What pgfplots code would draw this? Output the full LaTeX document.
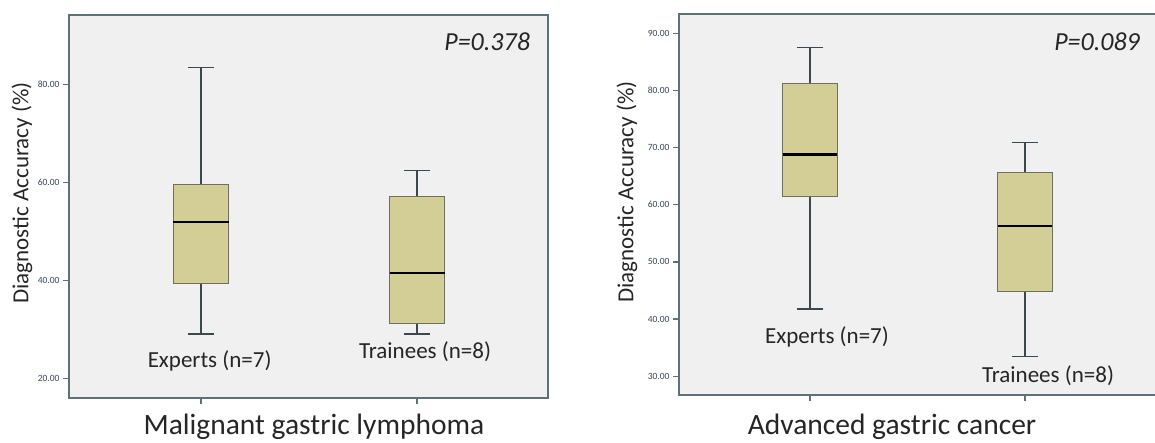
\documentclass[border=0pt]{standalone}
\usepackage{fontspec}
\setmainfont{Carlito}
\usepackage{pgfplots}
\pgfplotsset{compat=1.18}
\definecolor{boxfill}{RGB}{211,206,150}
\definecolor{boxedge}{RGB}{110,112,95}
\definecolor{bgc}{RGB}{240,240,240}
\definecolor{framec}{RGB}{95,112,118}
\definecolor{whisk}{RGB}{60,72,76}
\definecolor{ticktext}{RGB}{55,70,90}
\pgfplotsset{
  mybox/.style={
    scale only axis, anchor=south west,
    axis background/.style={fill=bgc},
    axis line style={framec, line width=1.6pt},
    tick align=outside, major tick length=6pt,
    tick style={framec, line width=1.2pt},
    xtick={0,1}, xticklabels={},
    ytick pos=left, xtick pos=bottom,
    yticklabel style={font=\fontsize{9.5}{10}\selectfont, text=ticktext,
      /pgf/number format/fixed, /pgf/number format/fixed zerofill,
      /pgf/number format/precision=2, /pgf/number format/assume math mode=true},
    clip=false,
  },
  bx/.style={fill=boxfill, draw=boxedge, line width=1pt, mark=none},
  wk/.style={draw=whisk, line width=1.5pt, mark=none},
  md/.style={draw=black, line width=2.2pt, mark=none},
}
\tikzset{
  catlab/.style={font=\fontsize{23}{27}\selectfont, text=black!85},
  plab/.style={font=\fontsize{26}{30}\selectfont\itshape, text=black!85},
}
\begin{document}
\begin{tikzpicture}
% ---------- left panel ----------
\begin{axis}[mybox, at={(69pt,44pt)}, width=479pt, height=383pt,
  xmin=-0.611, xmax=1.606, ymin=16.1, ymax=94.1, ytick={20,40,60,80}]
  % Experts: lw 29.1, q1 39.45, med 52.0, q3 59.5, uw 83.4
  \addplot[wk] coordinates {(0,29.1) (0,39.45)};
  \addplot[wk] coordinates {(0,59.5) (0,83.4)};
  \addplot[wk] coordinates {(-0.06,29.1) (0.06,29.1)};
  \addplot[wk] coordinates {(-0.06,83.4) (0.06,83.4)};
  \addplot[bx] coordinates {(-0.1275,39.45) (0.1275,39.45) (0.1275,59.5) (-0.1275,59.5)} -- cycle;
  \addplot[md] coordinates {(-0.1275,52.0) (0.1275,52.0)};
  % Trainees: lw 29.1, q1 31.2, med 41.5, q3 57.2, uw 62.45
  \addplot[wk] coordinates {(1,29.1) (1,31.2)};
  \addplot[wk] coordinates {(1,57.2) (1,62.45)};
  \addplot[wk] coordinates {(0.94,29.1) (1.06,29.1)};
  \addplot[wk] coordinates {(0.94,62.45) (1.06,62.45)};
  \addplot[bx] coordinates {(0.8725,31.2) (1.1275,31.2) (1.1275,57.2) (0.8725,57.2)} -- cycle;
  \addplot[md] coordinates {(0.8725,41.5) (1.1275,41.5)};
  \node[catlab] at (axis cs:0.04,23.7) {Experts (n=7)};
  \node[catlab] at (axis cs:1.037,25.6) {Trainees (n=8)};
  \node[plab] at (rel axis cs:0.873,0.93) {P=0.378};
\end{axis}
% ---------- right panel ----------
\begin{axis}[mybox, at={(679pt,47pt)}, width=480pt, height=381pt,
  xmin=-0.609, xmax=1.623, ymin=26.7, ymax=93.4, ytick={30,40,...,90}]
  % Experts: lw 41.75, q1 61.5, med 68.8, q3 81.2, uw 87.5
  \addplot[wk] coordinates {(0,41.75) (0,61.5)};
  \addplot[wk] coordinates {(0,81.2) (0,87.5)};
  \addplot[wk] coordinates {(-0.06,41.75) (0.06,41.75)};
  \addplot[wk] coordinates {(-0.06,87.5) (0.06,87.5)};
  \addplot[bx] coordinates {(-0.1275,61.5) (0.1275,61.5) (0.1275,81.2) (-0.1275,81.2)} -- cycle;
  \addplot[md] coordinates {(-0.1275,68.8) (0.1275,68.8)};
  % Trainees: lw 33.4, q1 44.8, med 56.3, q3 65.7, uw 70.9
  \addplot[wk] coordinates {(1,33.4) (1,44.8)};
  \addplot[wk] coordinates {(1,65.7) (1,70.9)};
  \addplot[wk] coordinates {(0.94,33.4) (1.06,33.4)};
  \addplot[wk] coordinates {(0.94,70.9) (1.06,70.9)};
  \addplot[bx] coordinates {(0.8725,44.8) (1.1275,44.8) (1.1275,65.7) (0.8725,65.7)} -- cycle;
  \addplot[md] coordinates {(0.8725,56.3) (1.1275,56.3)};
  \node[catlab] at (axis cs:0.079,36.9) {Experts (n=7)};
  \node[catlab] at (axis cs:1.107,30.0) {Trainees (n=8)};
  \node[plab] at (axis cs:1.335,88.5) {P=0.089};
\end{axis}
% ---------- outer labels ----------
\node[catlab, rotate=90] at (22pt,249pt) {Diagnostic Accuracy (\%)};
\node[catlab, rotate=90] at (627pt,250pt) {Diagnostic Accuracy (\%)};
\node[font=\fontsize{29.5}{33}\selectfont, text=black!85, anchor=base] at (314pt,7.5pt) {Malignant gastric lymphoma};
\node[font=\fontsize{29.5}{33}\selectfont, text=black!85, anchor=base] at (892pt,7.5pt) {Advanced gastric cancer};
\pgfresetboundingbox
\useasboundingbox (0,0) rectangle (1155pt,442pt);
\end{tikzpicture}
\end{document}
